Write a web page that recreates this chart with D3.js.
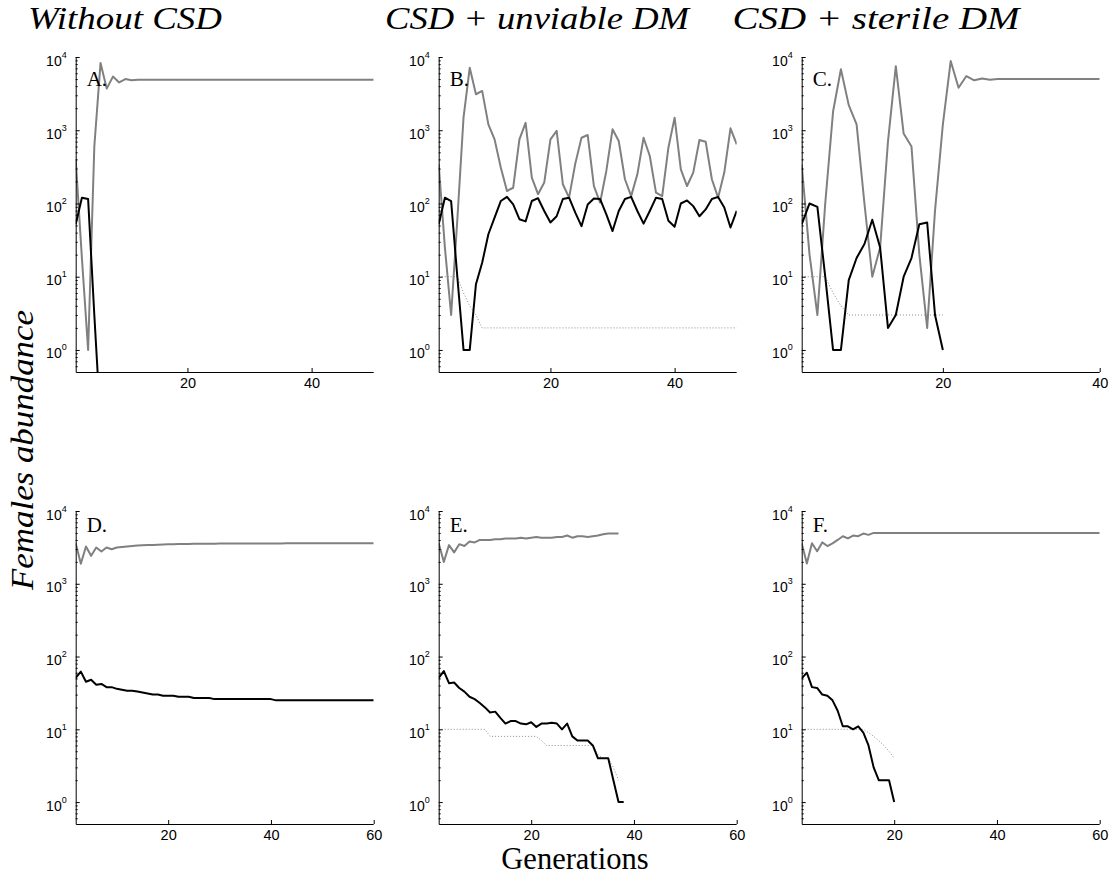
<!DOCTYPE html>
<html>
<head>
<meta charset="utf-8">
<script src="https://cdnjs.cloudflare.com/ajax/libs/d3/7.8.5/d3.min.js"></script>
<style>
  html, body { margin: 0; padding: 0; background: #fff; }
  svg { display: block; }
</style>
</head>
<body>
<svg id="chart" width="1111" height="877"></svg>
<script>
// ---------------- DATA (values per generation, first value = generation 2) ----------------
const startGen = 2;
const columnTitles = ["Without CSD", "CSD + unviable DM", "CSD + sterile DM"];
const panelLetters = ["A.", "B.", "C.", "D.", "E.", "F."];
const xMaxTop = [50, 50, 40];
const xMaxBottom = [60, 60, 60];
const xTicksTop = [[20, 40], [20, 40], [20, 40]];
const xTicksBottom = [[20, 40, 60], [20, 40, 60], [20, 40, 60]];
const yDomain = [0.5, 10000];
const yMajorTicks = [1, 10, 100, 1000, 10000];
const yTickExponents = ["0", "1", "2", "3", "4"];

// Panel A: Without CSD (top)
const aGrey = [400, 18, 1, 600, 8300, 3700, 5400, 4500, 5000, 4800,
  4900, 4900, 4900, 4900, 4900, 4900, 4900, 4900, 4900, 4900,
  4900, 4900, 4900, 4900, 4900, 4900, 4900, 4900, 4900, 4900,
  4900, 4900, 4900, 4900, 4900, 4900, 4900, 4900, 4900, 4900,
  4900, 4900, 4900, 4900, 4900, 4900, 4900, 4900, 4900];
const aBlack = [52, 120, 115, 3, 0.1];
const aDotted = [];

// Panel B: CSD + unviable DM (top)
const bGrey = [343, 25, 3, 60, 1490, 7150, 3100, 3440, 1200, 750,
  310, 148, 164, 750, 1260, 225, 134, 193, 750, 980,
  183, 120, 350, 790, 860, 173, 103, 278, 1030, 713,
  214, 126, 250, 790, 445, 141, 126, 578, 1485, 293,
  173, 264, 736, 698, 214, 120, 264, 1062, 643];
const bBlack = [52, 120, 108, 10, 1, 1, 7.9, 15.5, 38, 64,
  108, 123, 97, 61, 57, 108, 118, 79, 55, 67,
  115, 120, 75, 49, 97, 117, 115, 71, 42, 79,
  115, 123, 79, 53, 79, 120, 115, 58, 48, 100,
  110, 92, 67, 83, 115, 123, 88, 47, 79];
const bDotted = [10, 10, 10, 10, 6, 4, 3, 2, 2, 2,
  2, 2, 2, 2, 2, 2, 2, 2, 2, 2,
  2, 2, 2, 2, 2, 2, 2, 2, 2, 2,
  2, 2, 2, 2, 2, 2, 2, 2, 2, 2,
  2, 2, 2, 2, 2, 2, 2, 2, 2];

// Panel C: CSD + sterile DM (top)
const cGrey = [340, 20, 3, 100, 1800, 6800, 2200, 1200, 100, 10,
  25, 700, 7500, 900, 600, 20, 2, 80, 1200, 8800,
  3800, 5500, 4800, 5100, 4900, 5000, 5000, 5000, 5000, 5000,
  5000, 5000, 5000, 5000, 5000, 5000, 5000, 5000, 5000];
const cBlack = [52, 100, 90, 10, 1, 1, 9, 18, 28, 60,
  25, 2, 3, 10, 18, 52, 55, 3, 1];
const cDotted = [10, 10, 10, 10, 6, 4, 3, 3, 3, 3,
  3, 3, 3, 3, 3, 3, 3, 3, 3];

// Panel D: Without CSD (bottom)
const dGrey = [3600, 1880, 3250, 2420, 3150, 2770, 3150, 2980, 3150, 3200,
  3250, 3300, 3350, 3380, 3400, 3420, 3440, 3460, 3480, 3500,
  3510, 3520, 3530, 3540, 3550, 3550, 3560, 3560, 3570, 3570,
  3570, 3580, 3580, 3580, 3580, 3590, 3590, 3590, 3590, 3590,
  3590, 3600, 3600, 3600, 3600, 3600, 3600, 3600, 3600, 3600,
  3600, 3600, 3600, 3600, 3600, 3600, 3600, 3600, 3600];
const dBlack = [51, 62, 45, 48, 41, 42, 38, 38, 36, 35,
  34, 34, 33, 32, 31, 30, 30, 29, 29, 29,
  28, 28, 28, 27, 27, 27, 27, 26, 26, 26,
  26, 26, 26, 26, 26, 26, 26, 26, 26, 25,
  25, 25, 25, 25, 25, 25, 25, 25, 25, 25,
  25, 25, 25, 25, 25, 25, 25, 25, 25];
const dDotted = [];

// Panel E: CSD + unviable DM (bottom)
const eGrey = [3600, 2000, 3400, 2700, 3500, 3300, 3800, 3700, 4000, 4000,
  4000, 4100, 4100, 4200, 4200, 4200, 4300, 4200, 4300, 4400,
  4300, 4300, 4300, 4400, 4400, 4600, 4300, 4500, 4500, 4400,
  4500, 4600, 4800, 4900, 4900, 4900];
const eBlack = [51, 63, 43, 44, 37, 33, 28, 26, 23, 20,
  17, 17.5, 14.4, 12, 13, 13, 12, 11.7, 12.5, 10.8,
  12, 12, 12.3, 12, 10, 12, 8, 7, 7, 7,
  6, 4, 4, 4, 2, 1, 1];
const eDotted = [10, 10, 10, 10, 10, 10, 10, 10, 10, 10,
  8, 8, 8, 8, 8, 8, 8, 8, 8, 8,
  7, 6, 6, 6, 6, 6, 6, 6, 6, 6,
  6, 4.5, 4, 4, 3, 2];

// Panel F: CSD + sterile DM (bottom)
const fGrey = [3600, 1900, 3600, 2800, 3700, 3300, 3600, 4000, 4500, 4200,
  4600, 4500, 4900, 4700, 5000, 5000, 5000, 5000, 5000, 5000,
  5000, 5000, 5000, 5000, 5000, 5000, 5000, 5000, 5000, 5000,
  5000, 5000, 5000, 5000, 5000, 5000, 5000, 5000, 5000, 5000,
  5000, 5000, 5000, 5000, 5000, 5000, 5000, 5000, 5000, 5000,
  5000, 5000, 5000, 5000, 5000, 5000, 5000, 5000, 5000];
const fBlack = [50, 60, 38, 37, 30, 29, 25, 18, 11, 11,
  10, 11, 9, 6, 3, 2, 2, 2, 1];
const fDotted = [10, 10, 10, 10, 10, 10, 10, 10, 10, 10,
  10, 10, 10, 9, 8, 7, 6, 5, 4];

// ---------------- LAYOUT ----------------
const svg = d3.select("#chart");
const panelLeft = [75.7, 438.7, 801.7];
const panelWidth = 298;
const rowTop = [57, 511];
const rowHeight = [315, 313];
const letterBaseline = [85.5, 532];

const panels = [
  {col: 0, row: 0, grey: aGrey, black: aBlack, dotted: aDotted, xMax: xMaxTop[0], ticks: xTicksTop[0]},
  {col: 1, row: 0, grey: bGrey, black: bBlack, dotted: bDotted, xMax: xMaxTop[1], ticks: xTicksTop[1]},
  {col: 2, row: 0, grey: cGrey, black: cBlack, dotted: cDotted, xMax: xMaxTop[2], ticks: xTicksTop[2]},
  {col: 0, row: 1, grey: dGrey, black: dBlack, dotted: dDotted, xMax: xMaxBottom[0], ticks: xTicksBottom[0]},
  {col: 1, row: 1, grey: eGrey, black: eBlack, dotted: eDotted, xMax: xMaxBottom[1], ticks: xTicksBottom[1]},
  {col: 2, row: 1, grey: fGrey, black: fBlack, dotted: fDotted, xMax: xMaxBottom[2], ticks: xTicksBottom[2]}
];

const minorTicks = [];
for (let e = -1; e < 4; e++) {
  for (let m = 2; m <= 9; m++) {
    const v = m * Math.pow(10, e);
    if (v > yDomain[0] && v < yDomain[1]) minorTicks.push(v);
  }
}

const defs = svg.append("defs");

panels.forEach((p, i) => {
  const x0 = panelLeft[p.col], y0 = rowTop[p.row], h = rowHeight[p.row];
  const x = d3.scaleLinear().domain([startGen, p.xMax]).range([0, panelWidth]);
  const y = d3.scaleLog().domain(yDomain).range([h, 0]);
  const g = svg.append("g").attr("transform", `translate(${x0},${y0})`);

  defs.append("clipPath").attr("id", "clip" + i)
    .append("rect").attr("x", 0).attr("y", 0).attr("width", panelWidth).attr("height", h);

  const line = d3.line()
    .x((d, k) => x(startGen + k))
    .y(d => y(d));

  const plot = g.append("g").attr("clip-path", `url(#clip${i})`);
  if (p.dotted.length) {
    plot.append("path").datum(p.dotted).attr("d", line)
      .attr("fill", "none").attr("stroke", "#8a8a8a").attr("stroke-width", 1)
      .attr("stroke-dasharray", "1,2");
  }
  plot.append("path").datum(p.grey).attr("d", line)
    .attr("fill", "none").attr("stroke", "#808080").attr("stroke-width", 2)
    .attr("stroke-linejoin", "round");
  plot.append("path").datum(p.black).attr("d", line)
    .attr("fill", "none").attr("stroke", "#000").attr("stroke-width", 2)
    .attr("stroke-linejoin", "round");

  // X axis (ticks inward)
  const xAxis = d3.axisBottom(x).tickValues(p.ticks).tickSize(-4).tickPadding(6)
    .tickFormat(d3.format("d"));
  const xg = g.append("g").attr("transform", `translate(0,${h})`).call(xAxis);
  xg.select(".domain").attr("stroke", "#000").attr("d", `M0.5,0.5H${panelWidth}`);
  xg.selectAll(".tick line").attr("stroke", "#000");
  xg.selectAll(".tick text").attr("font-family", "Liberation Sans, Arial, sans-serif")
    .attr("font-size", 14.5).attr("fill", "#000");

  // Y axis minor ticks
  const yMinor = d3.axisLeft(y).tickValues(minorTicks).tickSize(-2).tickFormat("");
  const ymg = g.append("g").call(yMinor);
  ymg.select(".domain").remove();
  ymg.selectAll(".tick line").attr("stroke", "#000");

  // Y axis major ticks
  const yAxis = d3.axisLeft(y).tickValues(yMajorTicks).tickSize(-4).tickPadding(16).tickFormat("");
  const yg = g.append("g").call(yAxis);
  yg.select(".domain").attr("stroke", "#000").attr("d", `M0.5,${h + 0.5}V0`);
  yg.selectAll(".tick line").attr("stroke", "#000");
  yg.selectAll(".tick").each(function(d) {
    const t = d3.select(this).append("text")
      .attr("x", -9).attr("y", 8)
      .attr("text-anchor", "end")
      .attr("font-family", "Liberation Sans, Arial, sans-serif")
      .attr("font-size", 14).attr("fill", "#000");
    t.append("tspan").text("10");
    t.append("tspan").attr("dy", -8).attr("font-size", 9).text(yTickExponents[yMajorTicks.indexOf(d)]);
  });

  // Panel letter
  svg.append("text")
    .attr("x", x0 + 11).attr("y", letterBaseline[p.row])
    .attr("font-family", "Liberation Serif, Times New Roman, serif")
    .attr("font-size", 21).attr("fill", "#000")
    .text(panelLetters[i]);
});

// Column titles
const titleCenters = [125, 537, 876];
const titleWidths = [194, 304, 287];
columnTitles.forEach((t, i) => {
  svg.append("text")
    .attr("x", titleCenters[i]).attr("y", 29)
    .attr("text-anchor", "middle")
    .attr("font-family", "Liberation Serif, Times New Roman, serif")
    .attr("font-style", "italic")
    .attr("font-size", 32).attr("fill", "#000")
    .attr("textLength", titleWidths[i])
    .attr("lengthAdjust", "spacingAndGlyphs")
    .text(t);
});

// Y label
svg.append("text")
  .attr("transform", "translate(33,450) rotate(-90)")
  .attr("text-anchor", "middle")
  .attr("font-family", "Liberation Serif, Times New Roman, serif")
  .attr("font-style", "italic")
  .attr("font-size", 32).attr("fill", "#000")
  .attr("textLength", 280)
  .attr("lengthAdjust", "spacingAndGlyphs")
  .text("Females abundance");

// X label
svg.append("text")
  .attr("x", 575).attr("y", 869)
  .attr("text-anchor", "middle")
  .attr("font-family", "Liberation Serif, Times New Roman, serif")
  .attr("font-size", 30.5).attr("fill", "#000")
  .text("Generations");
</script>
</body>
</html>
